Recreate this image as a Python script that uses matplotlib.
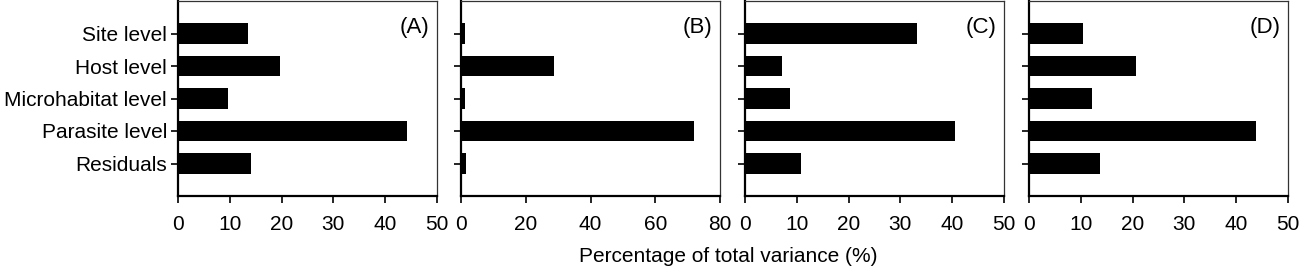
import matplotlib
matplotlib.use("Agg")
import matplotlib.pyplot as plt

plt.rcParams["font.family"] = ["Liberation Sans", "DejaVu Sans"]

# categories, top to bottom
levels = ["Site level", "Host level", "Microhabitat level", "Parasite level", "Residuals"]

# percentage of total variance per panel
panel_a = [13.5, 19.6, 9.6, 44.2, 14.0]
panel_b = [1.2, 28.8, 1.2, 71.9, 1.4]
panel_c = [33.3, 7.2, 8.7, 40.6, 10.8]
panel_d = [10.4, 20.6, 12.1, 43.9, 13.7]

panel_names = ["(A)", "(B)", "(C)", "(D)"]
x_max = [50, 80, 50, 50]
x_step = [10, 20, 10, 10]

fig = plt.figure(figsize=(13, 2.69), dpi=100)

lefts = [178, 461, 745, 1029]
width_px = 259
bottom = 1 - 196 / 269
top = 1 - 1 / 269

ypos = list(range(len(levels)))[::-1]

for i, vals in enumerate([panel_a, panel_b, panel_c, panel_d]):
    ax = fig.add_axes([lefts[i] / 1300, bottom, width_px / 1300, top - bottom])
    ax.barh(ypos, vals, height=0.64, color="black")
    ax.set_xlim(0, x_max[i])
    ax.set_ylim(-1, 5)
    ax.set_xticks(range(0, x_max[i] + 1, x_step[i]))
    ax.set_yticks(ypos)
    if i == 0:
        ax.set_yticklabels(levels, fontsize=15)
    else:
        ax.set_yticklabels([])
    ax.tick_params(axis="x", labelsize=15, length=5, width=1.2, direction="out", pad=9)
    ax.tick_params(axis="y", length=5, width=1.2, direction="out", pad=3)
    for s in ["left", "bottom"]:
        ax.spines[s].set_linewidth(1.6)
    for s in ["top", "right"]:
        ax.spines[s].set_linewidth(0.9)
        ax.spines[s].set_color("#333333")
    ax.text(0.97, 0.92, panel_names[i], transform=ax.transAxes,
            ha="right", va="top", fontsize=16)

fig.text(728 / 1300, 1 - 257 / 269, "Percentage of total variance (%)",
         ha="center", va="center", fontsize=15)

fig.savefig("out.png", dpi=100)
